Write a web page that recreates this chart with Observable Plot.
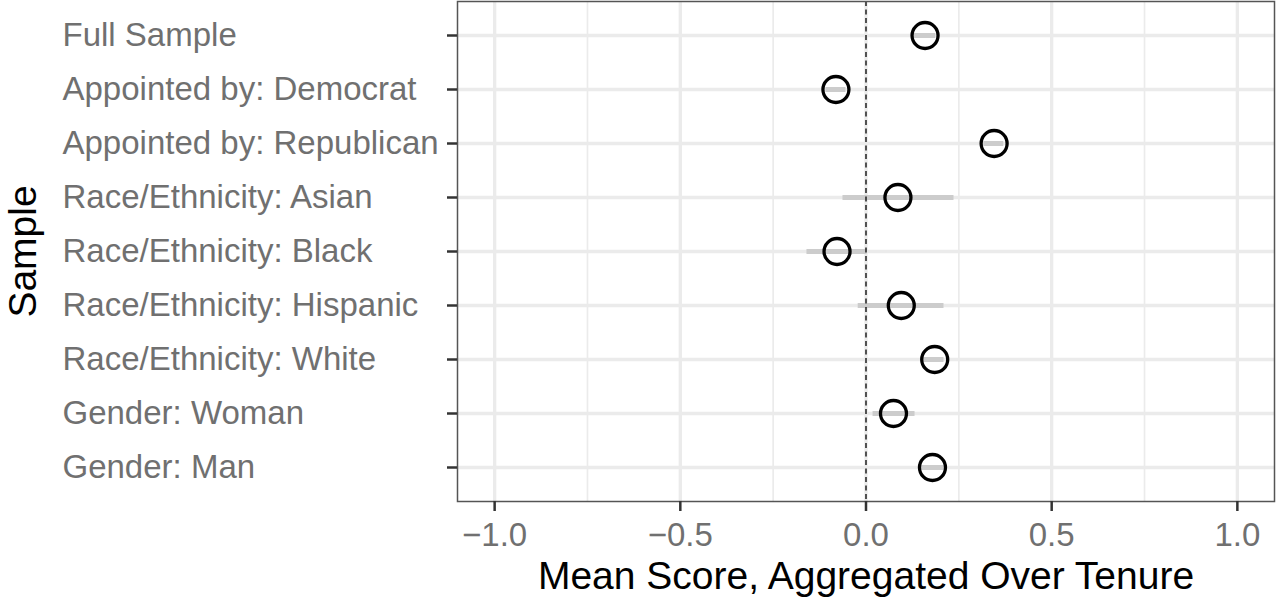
<!DOCTYPE html>
<html><head><meta charset="utf-8">
<script src="https://cdn.jsdelivr.net/npm/d3@7"></script>
<script src="https://cdn.jsdelivr.net/npm/@observablehq/plot@0.6"></script>
<style>body{margin:0;background:#fff} svg{display:block}</style>
</head><body><div id="chart"></div>
<script>
const categories = [
  "Full Sample",
  "Appointed by: Democrat",
  "Appointed by: Republican",
  "Race/Ethnicity: Asian",
  "Race/Ethnicity: Black",
  "Race/Ethnicity: Hispanic",
  "Race/Ethnicity: White",
  "Gender: Woman",
  "Gender: Man"
];
const means = [0.159, -0.081, 0.345, 0.086, -0.078, 0.095, 0.185, 0.074, 0.179];
const lower = [0.129, -0.108, 0.317, -0.062, -0.159, -0.021, 0.155, 0.019, 0.150];
const upper = [0.188, -0.054, 0.371, 0.237, 0.003, 0.210, 0.210, 0.132, 0.210];
const xTicks = [-1, -0.5, 0, 0.5, 1];
const xMinor = [-0.75, -0.25, 0.25, 0.75];
const refLine = [0];
const xTitle = "Mean Score, Aggregated Over Tenure";
const yTitle = "Sample";

const rows = categories.map((c, i) => ({sample: c, mean: means[i], lo: lower[i], hi: upper[i]}));

const chart = Plot.plot({
  width: 1276, height: 609,
  marginLeft: 457, marginRight: 2, marginTop: 1, marginBottom: 108,
  style: {fontFamily: "'Liberation Sans', Arial, Helvetica, sans-serif", background: "#fff"},
  x: {domain: [-1.1, 1.1], label: null},
  y: {type: "point", domain: categories, padding: 0.6, label: null},
  marks: [
    Plot.ruleX(xMinor, {stroke: "#ebebeb", strokeWidth: 1.7}),
    Plot.ruleX(xTicks, {stroke: "#ebebeb", strokeWidth: 3.3}),
    Plot.ruleY(categories, {y: d => d, stroke: "#ebebeb", strokeWidth: 3.3}),
    Plot.ruleY(rows, {y: "sample", x1: "lo", x2: "hi", stroke: "#cccccc", strokeWidth: 5}),
    Plot.ruleX(refLine, {stroke: "#000", strokeWidth: 1.3, strokeDasharray: "5,3.5"}),
    Plot.dot(rows, {x: "mean", y: "sample", r: 13, stroke: "#000", strokeWidth: 3.3, fill: "none"}),
    Plot.frame({stroke: "#555", strokeWidth: 1.5}),
    Plot.axisX(xTicks, {tickSize: 10, tickPadding: 11, tickFormat: d3.format(".1f"), fontSize: 33, fill: "#707070", stroke: "#333", strokeWidth: 2.5}),
    Plot.axisY({tickSize: 10, tickPadding: 385, textAnchor: "start", fontSize: 33, fill: "#707070", stroke: "#333", strokeWidth: 2.5}),
    Plot.text([xTitle], {frameAnchor: "bottom", dy: 87, fontSize: 39, fill: "#000"}),
    Plot.text([yTitle], {frameAnchor: "left", textAnchor: "middle", dx: -434, rotate: -90, fontSize: 39, fill: "#000"})
  ]
});
document.getElementById("chart").appendChild(chart);
</script>
</body></html>
